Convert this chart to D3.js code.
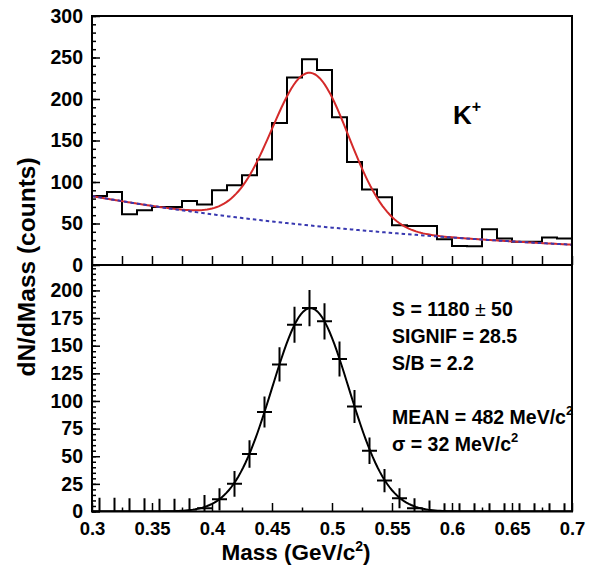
<!DOCTYPE html>
<html>
<head>
<meta charset="utf-8">
<script src="https://cdn.jsdelivr.net/npm/d3@7"></script>
<style>
    body { margin: 0; background: #fff; }
    text { font-family: "Liberation Sans", Arial, sans-serif; font-weight: bold; fill: #000; }
    .tick line, .domain { stroke: #000; stroke-width: 1.5px; }
</style>
</head>
<body>
<svg id="chart" width="594" height="571"></svg>
<script>
"use strict";

// ---- данные ----
// бины по массе (ГэВ/c^2), ширина 12.5 МэВ
const massMin = 0.3, massMax = 0.7, binWidth = 0.0125;
const binCenters = d3.range(32).map((i) => massMin + binWidth * (i + 0.5));

// верхняя панель: гистограмма отсчётов
const countsTop = [83, 88, 61, 66, 70, 70, 77, 73, 90, 96, 108, 127, 171, 226, 248, 235,
                   178, 124, 91, 81.5, 48, 47, 47, 31, 23, 22.5, 43, 32, 28, 28, 33, 32];

// нижняя панель: сигнал после вычитания фона и ошибки
const signal = [0, 0, 0, 0, 0, 0, 0, 3, 11, 25, 52, 90, 133, 169, 184, 172,
                138, 95, 55, 28, 12, 3, 0, 0, 0, 0, 0, 0, 0, 0, 0, 0];
const signalErr = [12.5, 12.5, 12, 12, 11.5, 11.5, 12, 12, 10, 11.7, 12.5, 14, 15.5, 16.3, 16.3, 16.3,
                   15.8, 15, 12, 10.5, 9, 9, 10, 7.5, 7.5, 7.5, 7.5, 7.5, 7.5, 7.5, 7.5, 7.5];

// параметры фита: экспоненциальный фон + гаусс
const fitBg0 = 83, fitBgSlope = 3.06;
const fitAmp = 184, fitMean = 0.482, fitSigma = 0.032;

// тики
const xMajorTicks = [0.3, 0.35, 0.4, 0.45, 0.5, 0.55, 0.6, 0.65, 0.7];
const yTopTicks = [0, 50, 100, 150, 200, 250, 300];
const yBotTicks = [0, 25, 50, 75, 100, 125, 150, 175, 200];

const statLines = ["S = 1180 ± 50", "SIGNIF = 28.5", "S/B = 2.2", "", "MEAN = 482 MeV/c2", "σ = 32 MeV/c2"];

// ---- геометрия ----
const padL = 92, padR = 572, padT = 16, padMid = 265, padB = 511.5;

const x = d3.scaleLinear().domain([massMin, massMax]).range([padL, padR]);
const yTop = d3.scaleLinear().domain([0, 300]).range([padMid, padT]);
const yBot = d3.scaleLinear().domain([0, 223]).range([padB, padMid]);

const svg = d3.select("#chart");

const bg = (m) => fitBg0 * Math.exp(-fitBgSlope * (m - massMin));
const gaus = (m) => fitAmp * Math.exp(-Math.pow(m - fitMean, 2) / (2 * fitSigma * fitSigma));
const fineMass = d3.range(massMin, massMax + 1e-9, 0.002);

// клипы панелей
const defs = svg.append("defs");
defs.append("clipPath").attr("id", "clip-top")
    .append("rect").attr("x", padL).attr("y", padT).attr("width", padR - padL).attr("height", padMid - padT);
defs.append("clipPath").attr("id", "clip-bot")
    .append("rect").attr("x", padL).attr("y", padMid).attr("width", padR - padL).attr("height", padB - padMid);

// ---- верхняя панель ----
const gTop = svg.append("g").attr("clip-path", "url(#clip-top)");

// контур гистограммы
let histPts = [];
countsTop.forEach((v, i) => {
    histPts.push([x(binCenters[i] - binWidth / 2), yTop(v)]);
    histPts.push([x(binCenters[i] + binWidth / 2), yTop(v)]);
});
gTop.append("path")
    .attr("d", d3.line()(histPts))
    .attr("fill", "none").attr("stroke", "#000").attr("stroke-width", 2);

// полный фит
gTop.append("path")
    .datum(fineMass)
    .attr("d", d3.line().x((m) => x(m)).y((m) => yTop(bg(m) + gaus(m))))
    .attr("fill", "none").attr("stroke", "#d42a2a").attr("stroke-width", 2);

// фон (пунктир)
gTop.append("path")
    .datum(fineMass)
    .attr("d", d3.line().x((m) => x(m)).y((m) => yTop(bg(m))))
    .attr("fill", "none").attr("stroke", "#3838b0").attr("stroke-width", 2)
    .attr("stroke-dasharray", "3.5,3");

// ---- нижняя панель ----
const gBot = svg.append("g").attr("clip-path", "url(#clip-bot)");

gBot.append("path")
    .datum(fineMass)
    .attr("d", d3.line().x((m) => x(m)).y((m) => yBot(gaus(m))))
    .attr("fill", "none").attr("stroke", "#000").attr("stroke-width", 2);

const pts = gBot.selectAll(".pt").data(signal).enter().append("g").attr("class", "pt");
pts.append("line")
    .attr("x1", (d, i) => x(binCenters[i] - binWidth / 2))
    .attr("x2", (d, i) => x(binCenters[i] + binWidth / 2))
    .attr("y1", (d) => yBot(d)).attr("y2", (d) => yBot(d))
    .attr("stroke", "#000").attr("stroke-width", 2);
pts.append("line")
    .attr("x1", (d, i) => x(binCenters[i])).attr("x2", (d, i) => x(binCenters[i]))
    .attr("y1", (d, i) => yBot(d - signalErr[i])).attr("y2", (d, i) => yBot(d + signalErr[i]))
    .attr("stroke", "#000").attr("stroke-width", 2);

// ---- оси ----
const fmtX = (d) => String(+d.toFixed(3));

// верхняя панель: ось Y
svg.append("g").attr("transform", `translate(${padL},0)`)
    .call(d3.axisLeft(yTop).tickValues(d3.range(0, 301, 10)).tickSize(-4).tickFormat(""))
    .call((g) => g.select(".domain").remove());
svg.append("g").attr("transform", `translate(${padL},0)`)
    .call(d3.axisLeft(yTop).tickValues(yTopTicks).tickSize(-8).tickPadding(9))
    .call((g) => g.select(".domain").remove())
    .selectAll("text").attr("font-size", 19.5);

// верхняя панель: нижняя ось без подписей
svg.append("g").attr("transform", `translate(0,${padMid})`)
    .call(d3.axisBottom(x).tickValues(d3.range(massMin, massMax + 1e-9, 0.025)).tickSize(-9).tickFormat(""))
    .call((g) => g.select(".domain").remove());

// нижняя панель: ось Y
svg.append("g").attr("transform", `translate(${padL},0)`)
    .call(d3.axisLeft(yBot).tickValues(d3.range(0, 221, 5)).tickSize(-4).tickFormat(""))
    .call((g) => g.select(".domain").remove());
svg.append("g").attr("transform", `translate(${padL},0)`)
    .call(d3.axisLeft(yBot).tickValues(yBotTicks).tickSize(-8).tickPadding(9))
    .call((g) => g.select(".domain").remove())
    .selectAll("text").attr("font-size", 19.5);

// нижняя панель: ось X
svg.append("g").attr("transform", `translate(0,${padB})`)
    .call(d3.axisBottom(x).tickValues(d3.range(0.325, massMax, 0.05)).tickSize(-4).tickFormat(""))
    .call((g) => g.select(".domain").remove());
svg.append("g").attr("transform", `translate(0,${padB})`)
    .call(d3.axisBottom(x).tickValues(xMajorTicks).tickSize(-8.5).tickPadding(10).tickFormat(fmtX))
    .call((g) => g.select(".domain").remove())
    .selectAll("text").attr("font-size", 18.5);

// рамки панелей
[[padT, padMid], [padMid, padB]].forEach(([y0, y1]) => {
    svg.append("rect")
        .attr("x", padL).attr("y", y0).attr("width", padR - padL).attr("height", y1 - y0)
        .attr("fill", "none").attr("stroke", "#000").attr("stroke-width", 2);
});

// ---- подписи ----
const xl = svg.append("text")
    .attr("x", 296).attr("y", 560).attr("text-anchor", "middle").attr("font-size", 22.5);
xl.append("tspan").text("Mass (GeV/c");
xl.append("tspan").text("2").attr("font-size", 14).attr("dy", -9);
xl.append("tspan").text(")").attr("dy", 9);

svg.append("text")
    .attr("transform", "translate(35,267) rotate(-90)")
    .attr("text-anchor", "middle").attr("font-size", 24.5)
    .text("dN/dMass (counts)");

const kt = svg.append("text").attr("x", 453).attr("y", 124).attr("font-size", 26);
kt.append("tspan").text("K");
kt.append("tspan").text("+").attr("font-size", 16).attr("dy", -12);

// статистика фита
statLines.forEach((s, i) => {
    if (!s) return;
    const t = svg.append("text").attr("x", 392).attr("y", 316 + i * 27).attr("font-size", 19.5);
    if (s.endsWith("c2")) {
        t.append("tspan").text(s.slice(0, -1));
        t.append("tspan").text("2").attr("font-size", 13).attr("dy", -9);
    } else if (s.includes("±")) {
        const [a, b] = s.split("±");
        t.append("tspan").text(a);
        t.append("tspan").text("±").attr("font-weight", "normal");
        t.append("tspan").text(b);
    } else {
        t.text(s);
    }
});
</script>
</body>
</html>
